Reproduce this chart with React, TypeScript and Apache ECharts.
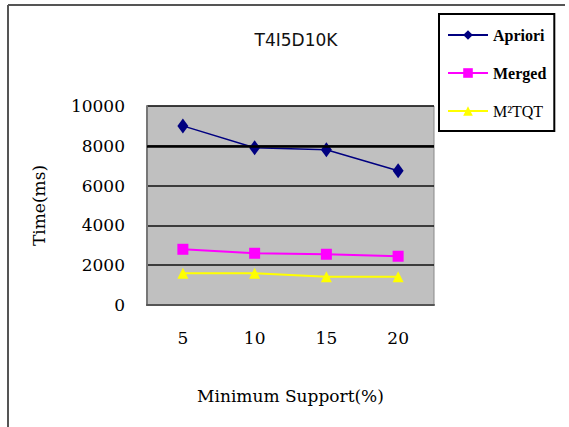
import React, { useEffect, useRef } from "react";
import * as echarts from "echarts";

const categories = ["5", "10", "15", "20"];
const apriori = [9000, 7900, 7800, 6750];
const merged = [2800, 2600, 2550, 2450];
const m2tqt = [1600, 1600, 1420, 1420];
const yTicks = { min: 0, max: 10000, interval: 2000 };

export default function App() {
  const ref = useRef<HTMLDivElement>(null);
  useEffect(() => {
    if (!ref.current) return;
    const chart = echarts.init(ref.current, null, { renderer: "svg" });
    const serif = "DejaVu Serif";
    chart.setOption({
      animation: false,
      backgroundColor: "#ffffff",
      title: {
        text: "T4I5D10K",
        left: 291,
        top: 26,
        textAlign: "center",
        textStyle: { fontFamily: "DejaVu Sans", fontSize: 17, fontWeight: "normal", color: "#111" },
      },
      legend: {
        orient: "vertical",
        left: 439,
        top: 14,
        padding: [13, 8, 12, 8],
        itemGap: 22,
        itemWidth: 40,
        itemHeight: 12,
        borderColor: "#000",
        borderWidth: 2,
        textStyle: { fontFamily: "Liberation Serif", fontSize: 16, color: "#000" },
        data: [
          { name: "Apriori", textStyle: { fontWeight: "bold" } },
          { name: "Merged", textStyle: { fontWeight: "bold" } },
          { name: "M²TQT" },
        ],
      },
      graphic: [
        { type: "line", shape: { x1: 8, y1: 5, x2: 565, y2: 5 }, style: { stroke: "#555", lineWidth: 2 } },
        { type: "line", shape: { x1: 8, y1: 5, x2: 8, y2: 427 }, style: { stroke: "#555", lineWidth: 2 } },
      ],
      grid: {
        left: 147,
        top: 106,
        right: 135,
        bottom: 122,
        show: true,
        backgroundColor: "#c0c0c0",
        borderColor: "#8a8a8a",
        borderWidth: 1,
      },
      xAxis: {
        type: "category",
        data: categories,
        boundaryGap: true,
        name: "Minimum Support(%)",
        nameLocation: "middle",
        nameGap: 82,
        nameTextStyle: { fontFamily: serif, fontSize: 17, color: "#000" },
        axisLine: { lineStyle: { color: "#555", width: 2 } },
        axisTick: { inside: true, length: 6, lineStyle: { color: "#222" } },
        axisLabel: { margin: 24, fontFamily: serif, fontSize: 17, color: "#000" },
      },
      yAxis: {
        type: "value",
        min: yTicks.min,
        max: yTicks.max,
        interval: yTicks.interval,
        name: "Time(ms)",
        nameLocation: "middle",
        nameGap: 100,
        nameTextStyle: { fontFamily: serif, fontSize: 17, color: "#000" },
        axisLine: { show: true, lineStyle: { color: "#777", width: 2 } },
        axisTick: { show: false },
        axisLabel: {
          margin: 22,
          fontFamily: serif,
          fontSize: 17,
          color: "#000",
          formatter: (v: number) => String(v),
        },
        splitLine: { lineStyle: { color: "#111", width: 1.5 } },
      },
      series: [
        {
          name: "Apriori",
          type: "line",
          data: apriori,
          color: "#000080",
          symbol: "diamond",
          symbolSize: [11, 15],
          lineStyle: { width: 1.5, color: "#000080" },
          itemStyle: { color: "#000080" },
          markLine: {
            silent: true,
            symbol: "none",
            label: { show: false },
            lineStyle: { color: "#000", width: 2.5, type: "solid" },
            data: [{ yAxis: 8000 }],
          },
          z: 3,
        },
        {
          name: "Merged",
          type: "line",
          data: merged,
          color: "#ff00ff",
          symbol: "rect",
          symbolSize: 11,
          lineStyle: { width: 2, color: "#ff00ff" },
          itemStyle: { color: "#ff00ff" },
        },
        {
          name: "M²TQT",
          type: "line",
          data: m2tqt,
          color: "#ffff00",
          symbol: "triangle",
          symbolSize: 11,
          lineStyle: { width: 2, color: "#ffff00" },
          itemStyle: { color: "#ffff00" },
        },
      ],
    });
    return () => chart.dispose();
  }, []);
  return <div ref={ref} style={{ width: 569, height: 427, position: "absolute", left: 0, top: 0 }} />;
}
